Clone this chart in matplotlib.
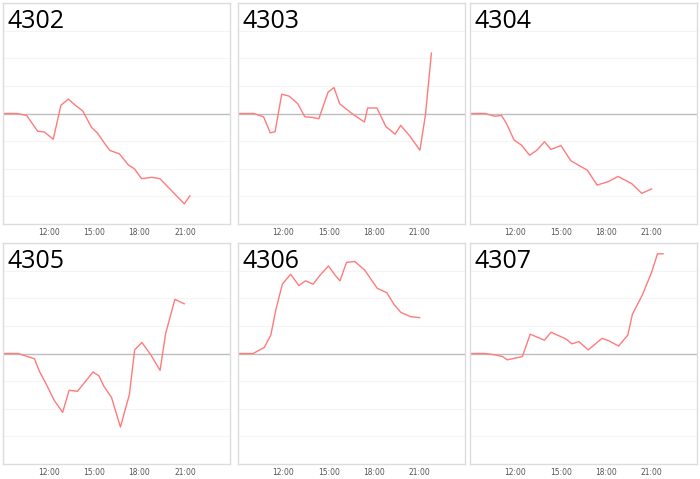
import matplotlib
matplotlib.use('Agg')
import matplotlib.pyplot as plt

names = ['4302', '4303', '4304', '4305', '4306', '4307']

t_4302 = [9.0, 9.88, 10.54, 11.27, 11.71, 12.30, 12.81, 13.30, 13.80, 14.24, 14.84, 15.23,
          15.65, 16.05, 16.67, 17.26, 17.66, 18.14, 18.80, 19.35, 20.96, 21.33]
v_4302 = [0, 0, -0.07, -0.64, -0.67, -0.93, 0.30, 0.52, 0.28, 0.10, -0.51, -0.71,
          -1.05, -1.34, -1.46, -1.86, -2.0, -2.36, -2.31, -2.36, -3.27, -2.98]

t_4303 = [9.0, 10.03, 10.69, 11.13, 11.45, 11.89, 12.37, 12.94, 13.42, 13.90, 14.34, 14.95,
          15.34, 15.72, 16.48, 17.35, 17.57, 18.18, 18.77, 19.38, 19.75, 20.36, 21.02, 21.39, 21.78]
v_4303 = [0, 0, -0.12, -0.70, -0.66, 0.70, 0.63, 0.36, -0.12, -0.14, -0.19, 0.77,
          0.94, 0.35, 0.02, -0.31, 0.20, 0.20, -0.47, -0.75, -0.43, -0.82, -1.33, -0.04, 2.19]

t_4304 = [9.0, 10.0, 10.65, 11.08, 11.41, 11.91, 12.39, 12.94, 13.42, 13.92, 14.35, 15.01,
          15.66, 16.20, 16.75, 17.40, 18.12, 18.78, 19.69, 20.35, 21.0]
v_4304 = [0, 0, -0.10, -0.07, -0.36, -0.96, -1.14, -1.51, -1.33, -1.02, -1.30, -1.16,
          -1.71, -1.88, -2.05, -2.59, -2.47, -2.28, -2.54, -2.89, -2.73]

t_4305 = [9.0, 9.97, 11.06, 11.39, 11.83, 12.37, 12.92, 13.35, 13.90, 14.93, 15.32, 15.65,
          16.15, 16.74, 17.33, 17.68, 18.16, 18.75, 19.36, 19.73, 20.34, 20.95]
v_4305 = [0, 0, -0.19, -0.65, -1.10, -1.70, -2.13, -1.33, -1.37, -0.67, -0.81, -1.19,
          -1.59, -2.66, -1.49, 0.13, 0.40, -0.05, -0.61, 0.73, 1.96, 1.80]

t_4306 = [9.0, 10.0, 10.74, 11.17, 11.50, 11.93, 12.48, 13.02, 13.46, 13.96, 14.43, 14.98,
          15.41, 15.74, 16.17, 16.72, 17.37, 18.20, 18.83, 19.33, 19.76, 20.41, 21.0]
v_4306 = [0, 0, 0.22, 0.67, 1.58, 2.51, 2.87, 2.46, 2.63, 2.51, 2.84, 3.17,
          2.84, 2.63, 3.30, 3.33, 3.02, 2.36, 2.20, 1.76, 1.49, 1.33, 1.30]

t_4307 = [9.0, 10.0, 10.65, 11.15, 11.46, 11.96, 12.46, 12.98, 13.92, 14.35, 15.33, 15.73,
          16.20, 16.81, 17.73, 18.17, 18.82, 19.43, 19.73, 20.39, 21.0, 21.39, 21.76]
v_4307 = [0, 0, -0.05, -0.11, -0.23, -0.17, -0.11, 0.70, 0.48, 0.77, 0.53, 0.35,
          0.43, 0.13, 0.55, 0.46, 0.27, 0.67, 1.42, 2.12, 2.94, 3.61, 3.61]

times = [t_4302, t_4303, t_4304, t_4305, t_4306, t_4307]
values = [v_4302, v_4303, v_4304, v_4305, v_4306, v_4307]

tick_pos = [12, 15, 18, 21]
tick_labels = ['12:00', '15:00', '18:00', '21:00']

W, H = 700, 479
fig = plt.figure(figsize=(W / 100, H / 100), dpi=100)

lefts = [3.3, 238, 470]
tops = [3, 243]
aw, ah = 227, 221

for i, name in enumerate(names):
    r, c = divmod(i, 3)
    ax = fig.add_axes([lefts[c] / W, 1 - (tops[r] + ah) / H, aw / W, ah / H])
    ax.set_xlim(9, 24)
    ax.set_ylim(-4, 4)
    for y in [-3, -2, -1, 1, 2, 3]:
        ax.axhline(y, color='#f4f4f4', lw=0.8, zorder=0)
    ax.axhline(0, color='#bdbdbd', lw=1.0, zorder=1)
    ax.plot(times[i], values[i], color='#ff7b7b', lw=1.0, zorder=2)
    ax.set_xticks(tick_pos)
    ax.set_xticklabels(tick_labels, fontsize=5.5, color='#555555')
    ax.set_yticks([])
    ax.tick_params(axis='x', length=0, pad=3)
    for s in ax.spines.values():
        s.set_color('#dcdcdc')
        s.set_linewidth(1.0)
    ax.text(0.018, 0.975, name, transform=ax.transAxes, ha='left', va='top',
            fontsize=18, family='Open Sans', color='black')

fig.savefig('out.png', dpi=100)
